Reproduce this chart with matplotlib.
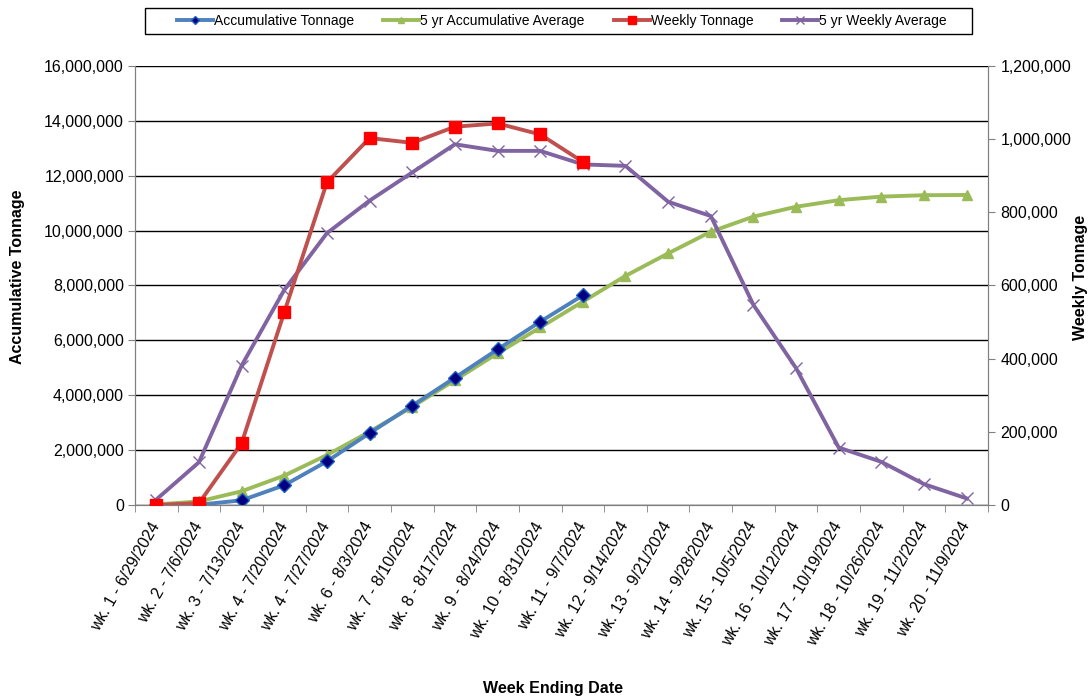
import matplotlib.pyplot as plt
import numpy as np
from matplotlib.patches import Rectangle
from matplotlib.ticker import FuncFormatter, MultipleLocator

plt.rcParams["font.family"] = ["Liberation Sans", "DejaVu Sans"]
plt.rcParams["font.size"] = 11.5

weeks = [
    "wk. 1 - 6/29/2024", "wk. 2 - 7/6/2024", "wk. 3 - 7/13/2024",
    "wk. 4 - 7/20/2024", "wk. 4 - 7/27/2024", "wk. 6 - 8/3/2024",
    "wk. 7 - 8/10/2024", "wk. 8 - 8/17/2024", "wk. 9 - 8/24/2024",
    "wk. 10 - 8/31/2024", "wk. 11 - 9/7/2024", "wk. 12 - 9/14/2024",
    "wk. 13 - 9/21/2024", "wk. 14 - 9/28/2024", "wk. 15 - 10/5/2024",
    "wk. 16 - 10/12/2024", "wk. 17 - 10/19/2024", "wk. 18 - 10/26/2024",
    "wk. 19 - 11/2/2024", "wk. 20 - 11/9/2024",
]

# left axis series (11 weeks reported so far)
accum_tonnage = [0, 10_000, 170_000, 720_000, 1_590_000, 2_620_000,
                 3_620_000, 4_640_000, 5_670_000, 6_680_000, 7_640_000]
avg5_accum = [20_000, 130_000, 500_000, 1_070_000, 1_820_000, 2_670_000,
              3_580_000, 4_550_000, 5_530_000, 6_470_000, 7_410_000,
              8_350_000, 9_170_000, 9_960_000, 10_510_000, 10_870_000,
              11_110_000, 11_240_000, 11_290_000, 11_300_000]

# right axis series
weekly_tonnage = [0, 5_000, 169_000, 527_000, 882_000, 1_003_000, 990_000,
                  1_034_000, 1_043_000, 1_013_000, 938_000]
avg5_weekly = [15_000, 117_000, 381_000, 588_000, 743_000, 832_000, 909_000,
               986_000, 968_000, 968_000, 931_000, 927_000, 829_000, 790_000,
               547_000, 374_000, 157_000, 118_000, 57_000, 18_000]

fmt = FuncFormatter(lambda v, p: f"{int(v):,}")

fig = plt.figure(figsize=(10.91, 6.96), dpi=100)
ax = fig.add_axes([135 / 1091, 1 - 505 / 696, 853 / 1091, 439 / 696])
ax2 = ax.twinx()

x = np.arange(len(weeks))
l1, = ax.plot(x[:len(accum_tonnage)], accum_tonnage, color="#4F81BD", lw=2.8,
              marker="D", ms=7, mfc="#000080", mec="#1F5FBF", zorder=4)
l2, = ax.plot(x, avg5_accum, color="#9BBB59", lw=2.8, marker="^", ms=7,
              mfc="#9BBB59", mec="#9BBB59", zorder=3)
l3, = ax2.plot(x[:len(weekly_tonnage)], weekly_tonnage, color="#C0504D",
               lw=2.8, marker="s", ms=9, mfc="#FF0000", mec="#FF0000", zorder=4)
l4, = ax2.plot(x, avg5_weekly, color="#8064A2", lw=2.8, marker="x", ms=9,
               mew=1, zorder=3)

ax.set_xlim(-0.5, len(weeks) - 0.5)
ax.set_ylim(0, 16_000_000)
ax2.set_ylim(0, 1_200_000)
ax.yaxis.set_major_locator(MultipleLocator(2_000_000))
ax2.yaxis.set_major_locator(MultipleLocator(200_000))
ax.yaxis.set_major_formatter(fmt)
ax2.yaxis.set_major_formatter(fmt)
ax.grid(axis="y", color="black", lw=1)
ax.set_axisbelow(True)

ax.set_xticks(x)
ax.set_xticklabels(weeks, rotation=60, ha="right", va="center",
                   rotation_mode="anchor")
ax.set_xticks(np.arange(len(weeks) + 1) - 0.5, minor=True)
ax.tick_params(axis="x", which="major", length=0, pad=13)
ax.tick_params(axis="x", which="minor", length=5, color="#808080")
ax.tick_params(axis="y", length=5, color="#808080", pad=3)
ax2.tick_params(axis="y", length=5, color="#808080", pad=4)

for a in (ax, ax2):
    a.spines["top"].set_visible(False)
    for s in ("left", "right", "bottom"):
        a.spines[s].set_color("#808080")

fig.text(18 / 1091, 1 - 277 / 696, "Accumulative Tonnage", fontweight="bold",
         rotation=90, ha="center", va="center")
fig.text(1080 / 1091, 1 - 277 / 696, "Weekly Tonnage", fontweight="bold",
         rotation=90, ha="center", va="center")
fig.text(553 / 1091, 1 - 688 / 696, "Week Ending Date", fontweight="bold",
         ha="center", va="center")

leg = fig.legend([l1, l2, l3, l4],
                 ["Accumulative Tonnage", "5 yr Accumulative Average",
                  "Weekly Tonnage", "5 yr Weekly Average"],
                 loc="center", bbox_to_anchor=(562 / 1091, 1 - 21 / 696),
                 ncol=4, frameon=False, fontsize=10, handlelength=2.6,
                 handletextpad=0.05, columnspacing=2.1, markerscale=0.6)
fig.patches.append(Rectangle((145 / 1091, 1 - 34 / 696), 827 / 1091,
                             26 / 696, transform=fig.transFigure,
                             fill=False, ec="black", lw=1))

fig.savefig("out.png", dpi=100)
